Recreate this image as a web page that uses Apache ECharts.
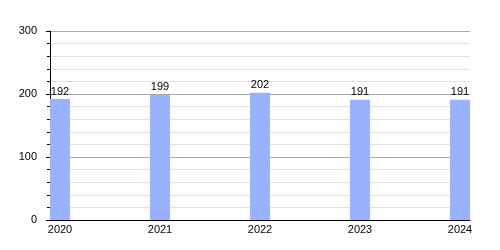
<!DOCTYPE html>
<html><head><meta charset="utf-8">
<script src="https://cdn.jsdelivr.net/npm/echarts@6/dist/echarts.min.js"></script>
<style>html,body{margin:0;padding:0;background:#fff}#c{width:500px;height:250px}</style>
</head><body><div id="c"></div>
<script>
const years = [2020, 2021, 2022, 2023, 2024];
const values = [192, 199, 202, 191, 191];
const yTicks = [0, 100, 200, 300];

const chart = echarts.init(document.getElementById('c'), null, {renderer: 'canvas'});
const font = 'Liberation Sans, Arial, sans-serif';
chart.setOption({
  animation: false,
  grid: {left: 50, right: 30, top: 31, bottom: 30, containLabel: false},
  xAxis: {
    type: 'value', min: years[0] - 0.1, max: years[years.length - 1] + 0.1,
    axisLine: {show: true, onZero: false, lineStyle: {color: '#000', width: 1}},
    axisTick: {show: false},
    splitLine: {show: false},
    axisLabel: {customValues: years, formatter: v => String(v), color: '#000', fontSize: 11, fontFamily: font, margin: 4}
  },
  yAxis: {
    type: 'value', min: yTicks[0], max: yTicks[yTicks.length - 1], interval: 100,
    axisLine: {show: true, onZero: false, lineStyle: {color: '#000', width: 1}},
    axisTick: {show: true, length: 4, lineStyle: {color: '#000'}},
    minorTick: {show: true, splitNumber: 5, length: 3, lineStyle: {color: '#000'}},
    splitLine: {show: true, lineStyle: {color: '#aaaaaa', width: 1}},
    minorSplitLine: {show: true, lineStyle: {color: '#e2e2e2', width: 1}},
    axisLabel: {color: '#000', fontSize: 11, fontFamily: font, margin: 13}
  },
  series: [{
    type: 'bar', barWidth: 20,
    data: years.map((y, i) => [y, values[i]]),
    itemStyle: {color: '#99b1ff'},
    label: {show: true, position: 'top', distance: 2, color: '#000', fontSize: 11, fontFamily: font}
  }]
});
</script></body></html>
